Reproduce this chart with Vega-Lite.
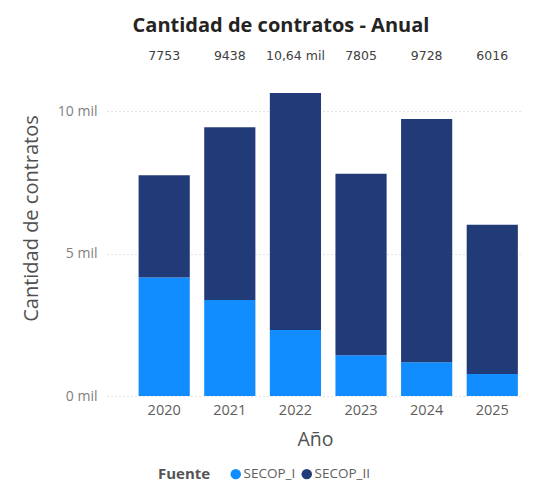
{
  "$schema": "https://vega.github.io/schema/vega-lite/v6.json",
  "width": 416,
  "height": 356,
  "autosize": "none",
  "padding": {"left": 107, "top": 40, "right": 25, "bottom": 99},
  "title": {
    "text": "Cantidad de contratos - Anual",
    "font": "Open Sans",
    "fontSize": 20,
    "fontWeight": "bold",
    "color": "#252423",
    "anchor": "middle",
    "dx": -34,
    "offset": 4
  },
  "datasets": {
    "contracts": [
      {"Año": "2020", "Fuente": "SECOP_I", "Cantidad": 4165},
      {"Año": "2020", "Fuente": "SECOP_II", "Cantidad": 3588},
      {"Año": "2021", "Fuente": "SECOP_I", "Cantidad": 3370},
      {"Año": "2021", "Fuente": "SECOP_II", "Cantidad": 6068},
      {"Año": "2022", "Fuente": "SECOP_I", "Cantidad": 2316},
      {"Año": "2022", "Fuente": "SECOP_II", "Cantidad": 8324},
      {"Año": "2023", "Fuente": "SECOP_I", "Cantidad": 1428},
      {"Año": "2023", "Fuente": "SECOP_II", "Cantidad": 6377},
      {"Año": "2024", "Fuente": "SECOP_I", "Cantidad": 1183},
      {"Año": "2024", "Fuente": "SECOP_II", "Cantidad": 8545},
      {"Año": "2025", "Fuente": "SECOP_I", "Cantidad": 772},
      {"Año": "2025", "Fuente": "SECOP_II", "Cantidad": 5244}
    ],
    "totals": [
      {"Año": "2020", "Etiqueta": "7753"},
      {"Año": "2021", "Etiqueta": "9438"},
      {"Año": "2022", "Etiqueta": "10,64 mil"},
      {"Año": "2023", "Etiqueta": "7805"},
      {"Año": "2024", "Etiqueta": "9728"},
      {"Año": "2025", "Etiqueta": "6016"}
    ]
  },
  "layer": [
    {
      "data": {"name": "contracts"},
      "mark": {"type": "bar"},
      "encoding": {
        "x": {
          "field": "Año",
          "type": "ordinal",
          "scale": {"paddingInner": 0.22, "paddingOuter": 0.28, "align": 0.86},
          "axis": {
            "title": "Año",
            "labelAngle": 0,
            "labelFont": "Open Sans",
            "labelFontSize": 14.5,
            "labelColor": "#605E5C",
            "labelPadding": 7,
            "ticks": false,
            "domain": false,
            "titleFont": "Open Sans",
            "titleFontSize": 19.5,
            "titleFontWeight": "normal",
            "titleColor": "#505050",
            "titlePadding": 14
          }
        },
        "y": {
          "field": "Cantidad",
          "type": "quantitative",
          "stack": "zero",
          "scale": {"domain": [0, 12500], "nice": false},
          "axis": {
            "title": "Cantidad de contratos",
            "values": [0, 5000, 10000],
            "labelExpr": "datum.value / 1000 + ' mil'",
            "labelFont": "Open Sans",
            "labelFontSize": 14,
            "labelColor": "#808080",
            "labelPadding": 10,
            "ticks": false,
            "domain": false,
            "grid": true,
            "gridColor": "#C8C8C8",
            "gridDash": [1, 3],
            "gridWidth": 1,
            "titleFont": "Open Sans",
            "titleFontSize": 20,
            "titleFontWeight": "normal",
            "titleColor": "#505050",
            "titlePadding": 16
          }
        },
        "color": {
          "field": "Fuente",
          "type": "nominal",
          "scale": {"domain": ["SECOP_I", "SECOP_II"], "range": ["#118DFF", "#213A78"]},
          "legend": {
            "title": "Fuente",
            "orient": "none",
            "legendX": 51,
            "legendY": 427,
            "direction": "horizontal",
            "titleOrient": "left",
            "titleFont": "Open Sans",
            "titleFontWeight": "bold",
            "titleFontSize": 15,
            "titleColor": "#555555",
            "titlePadding": 18,
            "labelFont": "Open Sans",
            "labelFontSize": 13.5,
            "labelColor": "#605E5C",
            "symbolType": "circle",
            "symbolSize": 110,
            "symbolStrokeWidth": 0,
            "labelOffset": 1,
            "columnPadding": 4
          }
        },
        "order": {"field": "Fuente"}
      }
    },
    {
      "data": {"name": "totals"},
      "mark": {"type": "text", "font": "DejaVu Sans", "fontSize": 12.5, "color": "#404040", "baseline": "middle"},
      "encoding": {
        "x": {"field": "Año", "type": "ordinal"},
        "y": {"datum": 11940, "type": "quantitative"},
        "text": {"field": "Etiqueta"}
      }
    }
  ],
  "config": {
    "view": {"stroke": null},
    "font": "Open Sans"
  }
}
